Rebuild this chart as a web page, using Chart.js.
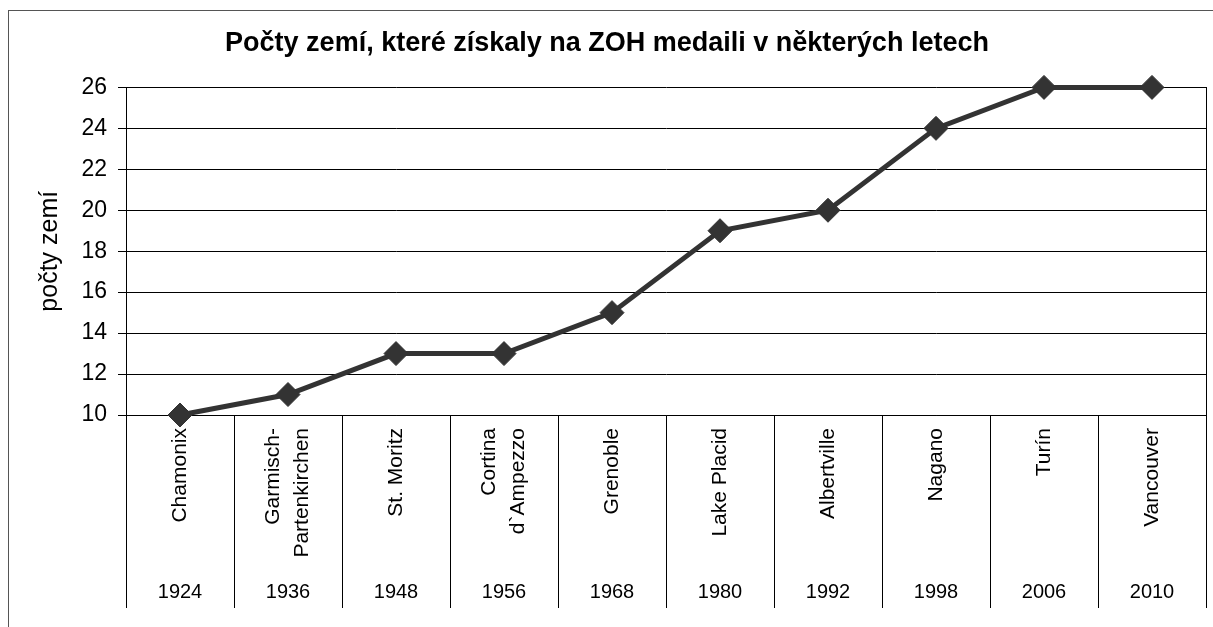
<!DOCTYPE html>
<html><head><meta charset="utf-8">
<script src="https://cdn.jsdelivr.net/npm/chart.js@4/dist/chart.umd.min.js"></script>
<style>html,body{margin:0;padding:0;background:#fff;overflow:hidden}#wrap{position:absolute;left:0;top:0;width:1230px;height:627px}</style>
</head><body><div id="wrap"><canvas id="c" width="1230" height="627"></canvas></div>
<script>
const cities = ['Chamonix', ['Garmisch-', 'Partenkirchen'], 'St. Moritz', ['Cortina', 'd`Ampezzo'], 'Grenoble', 'Lake Placid', 'Albertville', 'Nagano', 'Turín', 'Vancouver'];
const years = ['1924', '1936', '1948', '1956', '1968', '1980', '1992', '1998', '2006', '2010'];
const countries = [10, 11, 13, 13, 15, 19, 20, 24, 26, 26];
const yMin = 10, yMax = 26, yStep = 2;
const chartTitle = 'Počty zemí, které získaly na ZOH medaili v některých letech';
const yTitle = 'počty zemí';

Chart.defaults.font.family = "'Liberation Sans', Arial, sans-serif";
Chart.defaults.color = '#000';

const framePlugin = {
  id: 'frame',
  beforeDraw(chart) {
    const ctx = chart.ctx;
    ctx.save();
    ctx.fillStyle = '#fff';
    ctx.fillRect(0, 0, chart.width, chart.height);
    ctx.strokeStyle = '#555';
    ctx.lineWidth = 1;
    ctx.strokeRect(8.5, 10.5, 1400, 800);
    ctx.restore();
    // center multi-line rotated category labels on their tick
    const sc = chart.scales.x;
    const items = sc.getLabelItems();
    items.forEach(it => {
      if (Array.isArray(it.label) && !it._shifted) {
        it._shifted = true;
        it.options.translation[0] -= (it.label.length - 1) * it.font.lineHeight / 2;
      }
    });
  }
};

new Chart(document.getElementById('c'), {
  type: 'line',
  data: {
    labels: cities,
    datasets: [{
      data: countries,
      xAxisID: 'x',
      yAxisID: 'y',
      borderColor: '#333',
      backgroundColor: '#333',
      borderWidth: 5,
      pointStyle: 'rectRot',
      pointRadius: 12,
      pointHoverRadius: 12,
      pointBorderWidth: 1,
      pointBackgroundColor: '#333',
      pointBorderColor: '#333',
      tension: 0,
      clip: false
    }]
  },
  options: {
    responsive: false,
    devicePixelRatio: 1,
    animation: false,
    events: [],
    layout: { padding: { left: 8, right: 24, top: 0, bottom: 19 } },
    plugins: {
      legend: { display: false },
      tooltip: { enabled: false },
      title: {
        display: true,
        text: chartTitle,
        color: '#000',
        font: { size: 27, weight: 'bold' },
        padding: { top: 27, bottom: 28 }
      }
    },
    scales: {
      x: {
        type: 'category',
        position: 'bottom',
        weight: 0,
        offset: true,
        grid: { offset: true, drawOnChartArea: false, drawTicks: true, tickLength: 155, color: '#000', lineWidth: 1 },
        border: { display: true, color: '#000', width: 1 },
        ticks: { autoSkip: false, minRotation: 90, maxRotation: 90, padding: -142, color: '#000', font: { size: 21, lineHeight: 1.4 } },
        afterFit(s) { s.height = 155; }
      },
      x2: {
        type: 'category',
        position: 'bottom',
        weight: 1,
        labels: years,
        offset: true,
        grid: { offset: true, drawOnChartArea: false, drawTicks: true, tickLength: 38, color: '#000', lineWidth: 1 },
        border: { display: false },
        ticks: { autoSkip: false, maxRotation: 0, minRotation: 0, padding: -28, color: '#000', font: { size: 20 } },
        afterFit(s) { s.height = 38; }
      },
      y: {
        type: 'linear',
        position: 'left',
        min: yMin,
        max: yMax,
        grid: { color: '#000', lineWidth: 1, drawTicks: true, tickLength: 8 },
        border: { display: true, color: '#000', width: 1 },
        ticks: { stepSize: yStep, padding: 11, color: '#000', font: { size: 23 } },
        title: { display: true, text: yTitle, color: '#000', font: { size: 25 }, padding: { top: 27, bottom: 0 } },
        afterFit(s) { s.width = 118; }
      },
      yR: {
        type: 'linear',
        position: 'right',
        min: yMin,
        max: yMax,
        grid: { drawOnChartArea: false, drawTicks: false },
        border: { display: true, color: '#000', width: 1 },
        ticks: { display: false },
        afterFit(s) { s.width = 0; }
      }
    }
  },
  plugins: [framePlugin]
});
</script>
</body></html>
